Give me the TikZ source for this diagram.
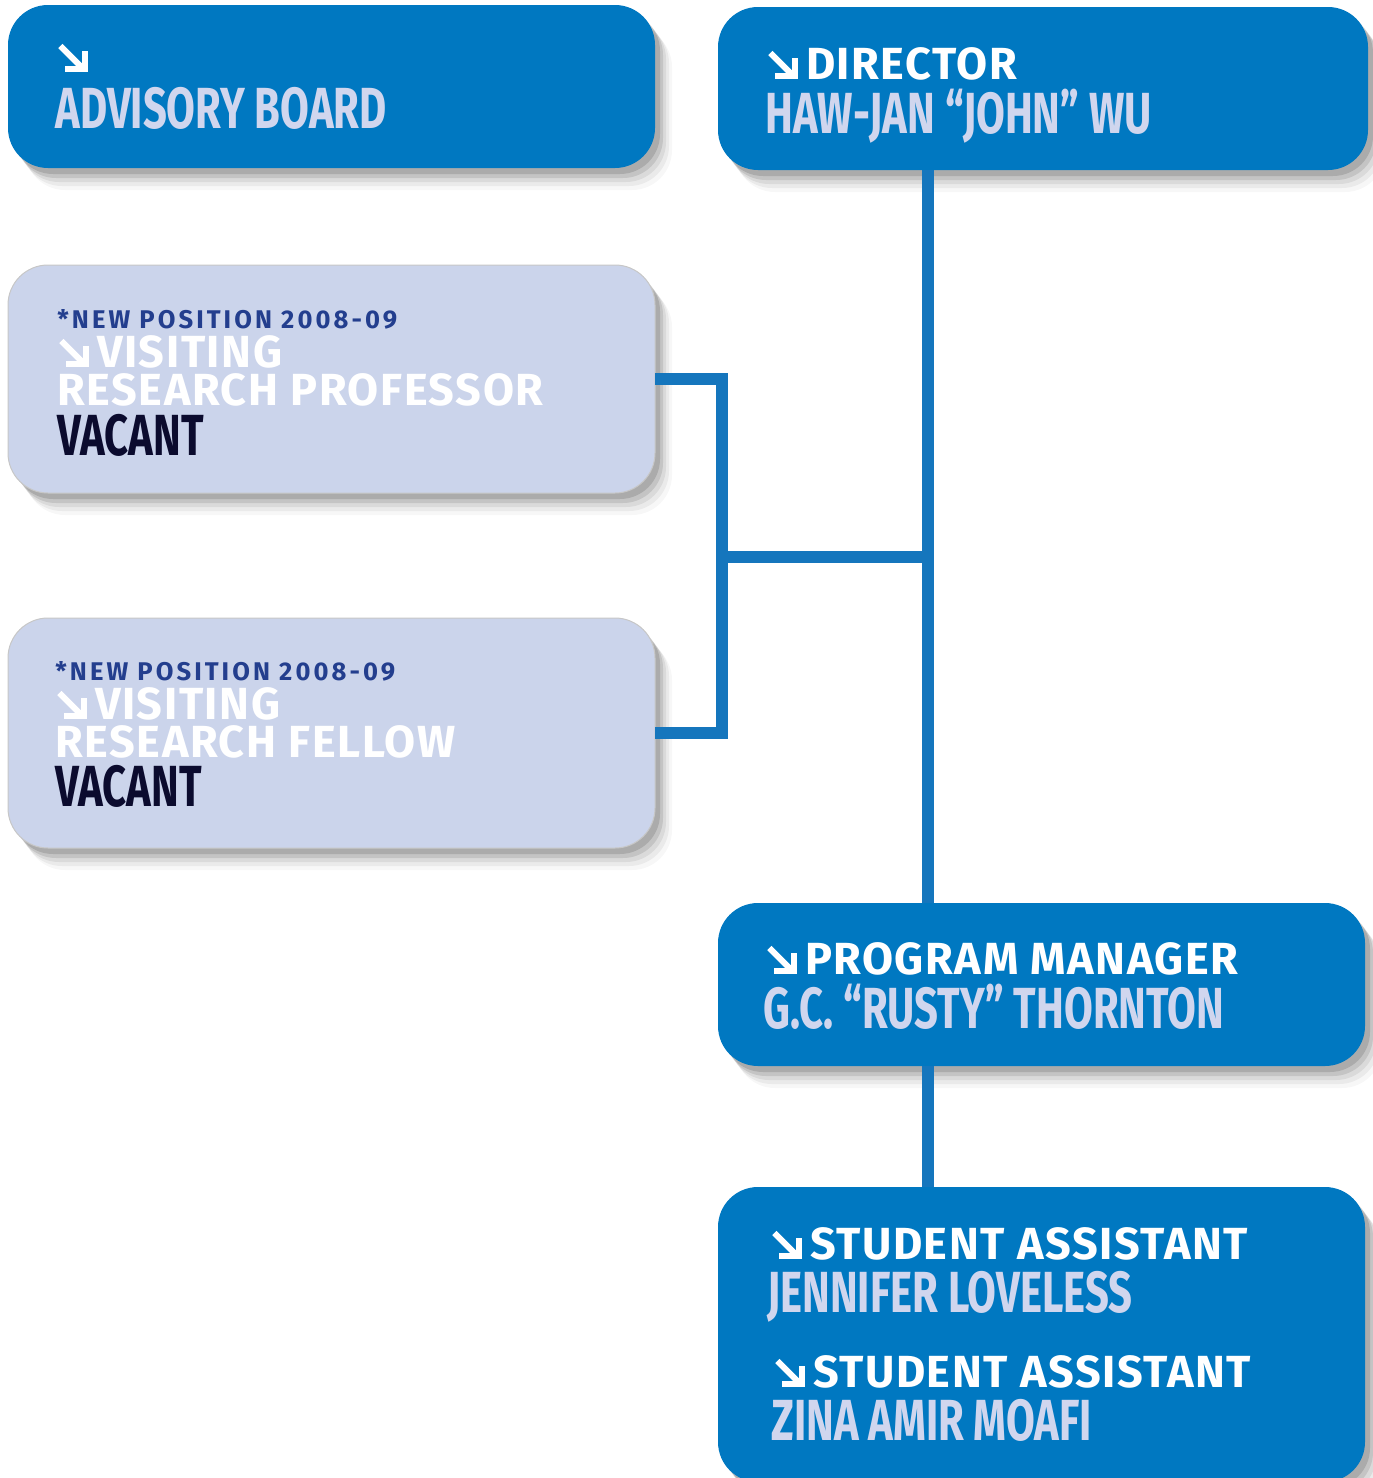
\documentclass[tikz,border=0pt]{standalone}
\usepackage{fontspec}
\setmainfont{Fira Sans}
\newfontfamily\namef[FakeStretch=0.72]{Fira Sans}
\newfontfamily\titlef[LetterSpace=3.5]{Fira Sans}
\newfontfamily\newf[LetterSpace=12]{Fira Sans}
\usetikzlibrary{shadows,calc}
\definecolor{boxblue}{HTML}{0078C1}
\definecolor{lightbox}{HTML}{CBD4EB}
\definecolor{namecol}{HTML}{D0D6EE}
\definecolor{newcol}{HTML}{233E8E}
\definecolor{vacantcol}{HTML}{0B0B2E}
\definecolor{conncol}{HTML}{1576BD}
\newcommand{\sea}{\tikz[x=1pt,y=1pt,baseline=0pt]{%
  \draw[white,line width=3pt,line cap=butt] (0.9,13) -- (12.2,1.7);
  \draw[white,line width=3pt,line join=miter,line cap=butt] (3.4,1.5) -- (13.2,1.5) -- (13.2,10.4);}}
\tikzset{
  softshadow/.style={
    general shadow={fill=black,opacity=0.12,shadow xshift=2.5pt,shadow yshift=-3pt},
    general shadow={fill=black,opacity=0.10,shadow xshift=4pt,shadow yshift=-5pt},
    general shadow={fill=black,opacity=0.07,shadow xshift=5.5pt,shadow yshift=-7pt},
    general shadow={fill=black,opacity=0.05,shadow xshift=7pt,shadow yshift=-9pt},
    general shadow={fill=black,opacity=0.03,shadow xshift=8.5pt,shadow yshift=-11pt}},
  orgbox/.style={rectangle, rounded corners=20pt, inner sep=0pt, outer sep=0pt, softshadow},
  darkbox/.style={orgbox, fill=boxblue},
  palebox/.style={orgbox, fill=lightbox, draw=black!22, line width=0.5pt},
  nametext/.style={anchor=base west, inner sep=0pt, text=namecol,
    text height=20pt, text depth=0pt,
    font=\namef\bfseries\fontsize{29pt}{30pt}\selectfont},
  vacanttext/.style={nametext, text=vacantcol},
  titletext/.style={anchor=base west, inner sep=0pt, text=white,
    text height=15.5pt, text depth=0pt,
    font=\titlef\bfseries\fontsize{22.5pt}{24pt}\selectfont},
  newtext/.style={anchor=base west, inner sep=0pt, text=newcol,
    text height=9pt, text depth=0pt,
    font=\newf\bfseries\fontsize{12.8pt}{14pt}\selectfont},
  conn/.style={draw=conncol, line width=6pt, line join=miter}
}
\begin{document}
\begin{tikzpicture}[x=0.5pt,y=-0.5pt]
\useasboundingbox (0,0) rectangle (1372,1478);
% boxes
\node[darkbox, minimum width=323.5pt, minimum height=81.5pt] (AB) at (331.5,86.5) {};
\node[darkbox, minimum width=325pt, minimum height=81.5pt] (DIR) at (1043,88.5) {};
\node[palebox, minimum width=323.5pt, minimum height=114pt] (VRP) at (331.5,379) {};
\node[palebox, minimum width=323.5pt, minimum height=115pt] (VRF) at (331.5,733) {};
\node[darkbox, minimum width=323.5pt, minimum height=81.5pt] (PM) at (1041.5,984.5) {};
\node[darkbox, minimum width=323.5pt, minimum height=147.5pt] (SA) at (1041.5,1334.5) {};
% connectors
\coordinate (spine) at (928,557);
\coordinate (bus) at (722,557);
\draw[conn] (DIR.south -| spine) -- (PM.north -| spine);
\draw[conn] (spine) -- (bus);
\draw[conn] (VRP.east) -| (bus) |- (VRF.east);
\draw[conn] (PM.south -| spine) -- (SA.north -| spine);
% texts
\node[titletext] (abarrow) at (57,72) {\sea};
\node[nametext] (abname) at (55,128) {ADVISORY BOARD};
\node[titletext] (dirtitle) at (767,79) {\sea\hspace{4pt}DIRECTOR};
\node[nametext] (dirname) at (765,133) {HAW-JAN “JOHN” WU};
\node[newtext] (vrpnew) at (57,328) {*NEW POSITION 2008-09};
\node[titletext] (vrpvis) at (58,367) {\sea\hspace{4pt}VISITING};
\node[titletext] (vrpres) at (57,405) {RESEARCH PROFESSOR};
\node[vacanttext] (vrpvac) at (57,455) {VACANT};
\node[newtext] (vrfnew) at (55,680) {*NEW POSITION 2008-09};
\node[titletext] (vrfvis) at (56,719) {\sea\hspace{4pt}VISITING};
\node[titletext] (vrfres) at (55,757) {RESEARCH FELLOW};
\node[vacanttext] (vrfvac) at (55,806) {VACANT};
\node[titletext] (pmtitle) at (766,974) {\sea\hspace{4pt}PROGRAM MANAGER};
\node[nametext] (pmname) at (763,1028) {G.C. “RUSTY” THORNTON};
\node[titletext] (satitle1) at (771,1259) {\sea\hspace{4pt}STUDENT ASSISTANT};
\node[nametext] (saname1) at (767,1312) {JENNIFER LOVELESS};
\node[titletext] (satitle2) at (774,1387) {\sea\hspace{4pt}STUDENT ASSISTANT};
\node[nametext] (saname2) at (771,1440) {ZINA AMIR MOAFI};
\end{tikzpicture}
\end{document}
